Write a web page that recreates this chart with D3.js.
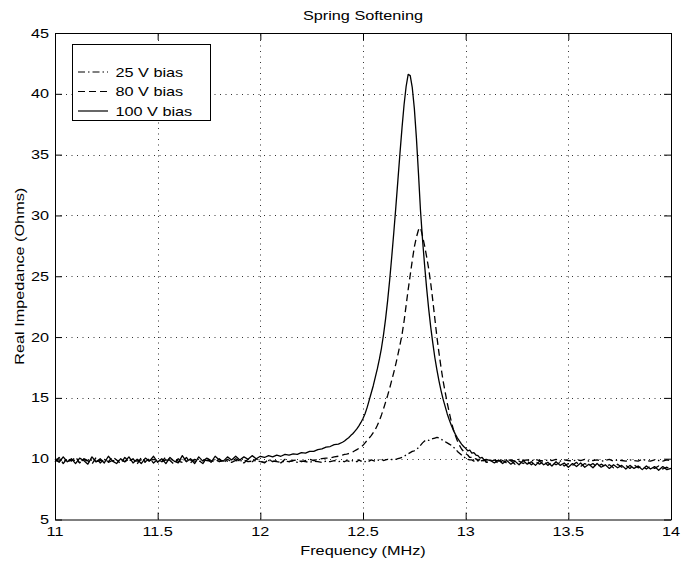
<!DOCTYPE html>
<html>
<head>
<meta charset="utf-8">
<script src="https://cdn.jsdelivr.net/npm/d3@7"></script>
<style>
  body { margin: 0; background: #fff; }
  text { font-family: "Liberation Sans", Arial, Helvetica, sans-serif; font-size: 13px; fill: #000; }
</style>
</head>
<body>
<div id="chart"></div>
<script>
// sampling grid (MHz): coarse on the flanks, fine round the resonance
const freqLow = [11.00, 11.02, 11.04, 11.06, 11.08, 11.10, 11.12, 11.14, 11.16, 11.18,
  11.20, 11.22, 11.24, 11.26, 11.28, 11.30, 11.32, 11.34, 11.36, 11.38,
  11.40, 11.42, 11.44, 11.46, 11.48, 11.50, 11.52, 11.54, 11.56, 11.58,
  11.60, 11.62, 11.64, 11.66, 11.68, 11.70, 11.72, 11.74, 11.76, 11.78,
  11.80, 11.82, 11.84, 11.86, 11.88, 11.90, 11.92, 11.94, 11.96, 11.98,
  12.00, 12.02, 12.04, 12.06, 12.08, 12.10, 12.12, 12.14, 12.16, 12.18,
  12.20, 12.22, 12.24, 12.26, 12.28, 12.30, 12.32, 12.34, 12.36, 12.38, 12.40];
const freqPeak = [12.41, 12.42, 12.43, 12.44, 12.45, 12.46, 12.47, 12.48, 12.49, 12.50,
  12.51, 12.52, 12.53, 12.54, 12.55, 12.56, 12.57, 12.58, 12.59, 12.60,
  12.61, 12.62, 12.63, 12.64, 12.65, 12.66, 12.67, 12.68, 12.69, 12.70,
  12.71, 12.72, 12.73, 12.74, 12.75, 12.76, 12.77, 12.78, 12.79, 12.80,
  12.81, 12.82, 12.83, 12.84, 12.85, 12.86, 12.87, 12.88, 12.89, 12.90,
  12.91, 12.92, 12.93, 12.94, 12.95, 12.96, 12.97, 12.98, 12.99, 13.00,
  13.01, 13.02, 13.03, 13.04, 13.05, 13.06, 13.07, 13.08, 13.09, 13.10];
const freqHigh = [13.12, 13.14, 13.16, 13.18, 13.20, 13.22, 13.24, 13.26, 13.28, 13.30,
  13.32, 13.34, 13.36, 13.38, 13.40, 13.42, 13.44, 13.46, 13.48, 13.50,
  13.52, 13.54, 13.56, 13.58, 13.60, 13.62, 13.64, 13.66, 13.68, 13.70,
  13.72, 13.74, 13.76, 13.78, 13.80, 13.82, 13.84, 13.86, 13.88, 13.90,
  13.92, 13.94, 13.96, 13.98, 14.00];

// real impedance (Ohms)
const bias25 = [
  // 11.00 - 12.40
  9.85, 9.80, 9.95, 9.75, 9.90, 9.85, 9.70, 9.95, 9.80, 9.90,
  9.75, 9.85, 9.95, 9.70, 9.85, 9.80, 9.90, 9.75, 9.95, 9.85,
  9.80, 9.90, 9.70, 9.85, 9.95, 9.80, 9.75, 9.90, 9.85, 9.95,
  9.80, 9.70, 9.85, 9.90, 9.80, 9.75, 9.90, 9.85, 9.80, 9.95,
  9.75, 9.85, 9.80, 9.70, 9.85, 9.80, 9.90, 9.75, 9.80, 9.85,
  9.75, 9.70, 9.85, 9.80, 9.75, 9.70, 9.80, 9.75, 9.85, 9.70,
  9.80, 9.75, 9.70, 9.80, 9.75, 9.70, 9.80, 9.75, 9.85, 9.75, 9.80,
  // 12.41 - 13.10
  9.75, 9.85, 9.80, 9.70, 9.85, 9.80, 9.75, 9.90, 9.80, 9.85,
  9.75, 9.85, 9.80, 9.90, 9.85, 9.80, 9.90, 9.85, 9.95, 9.85,
  9.90, 9.95, 9.90, 9.95, 9.90, 9.95, 10.00, 10.05, 10.10, 10.20,
  10.30, 10.40, 10.50, 10.60, 10.65, 10.75, 10.90, 11.10, 11.30, 11.45,
  11.55, 11.50, 11.60, 11.65, 11.70, 11.75, 11.70, 11.60, 11.50, 11.40,
  11.30, 11.20, 11.10, 10.95, 10.80, 10.60, 10.45, 10.30, 10.15, 10.05,
  9.95, 9.90, 9.90, 9.80, 9.85, 9.95, 9.80, 9.85, 9.90, 9.80,
  // 13.12 - 14.00
  9.85, 9.90, 9.80, 9.95, 9.85, 9.90, 9.80, 9.95, 9.85, 9.90,
  9.80, 9.95, 9.85, 9.80, 9.90, 9.85, 9.95, 9.80, 9.90, 9.85,
  9.80, 9.90, 9.85, 9.95, 9.80, 9.85, 9.90, 9.80, 9.85, 9.95,
  9.80, 9.90, 9.85, 9.80, 9.90, 9.85, 9.80, 9.95, 9.85, 9.80,
  9.90, 9.85, 9.80, 9.90, 9.85];

const bias80 = [
  // 11.00 - 12.40
  9.75, 10.10, 9.60, 10.05, 9.80, 10.15, 9.65, 10.00, 9.85, 9.55,
  10.10, 9.65, 9.95, 9.75, 10.15, 9.90, 9.60, 10.10, 9.80, 10.00,
  9.55, 10.10, 9.75, 10.00, 9.65, 9.95, 9.75, 10.15, 9.85, 9.55,
  10.00, 9.75, 10.10, 9.65, 9.95, 9.85, 9.60, 10.05, 9.85, 9.70,
  10.00, 9.65, 9.95, 9.75, 10.00, 9.80, 9.65, 9.95, 9.75, 10.00,
  9.80, 9.65, 9.95, 9.75, 9.85, 9.65, 9.95, 9.75, 9.85, 9.90,
  9.75, 9.85, 9.95, 9.85, 9.95, 10.00, 10.05, 10.05, 10.15, 10.20, 10.30,
  // 12.41 - 13.10
  10.35, 10.38, 10.42, 10.46, 10.55, 10.65, 10.75, 10.85, 10.95, 11.10,
  11.30, 11.50, 11.70, 11.90, 12.15, 12.40, 12.75, 13.15, 13.60, 14.10,
  14.65, 15.20, 15.80, 16.45, 17.10, 17.80, 18.55, 19.35, 20.20, 21.30,
  22.60, 23.90, 25.10, 26.30, 27.40, 28.20, 28.80, 29.00, 28.30, 27.50,
  26.60, 25.60, 24.40, 23.00, 21.50, 20.00, 18.70, 17.50, 16.40, 15.50,
  14.60, 13.80, 13.05, 12.40, 11.90, 11.45, 11.10, 10.80, 10.60, 10.40,
  10.30, 10.10, 10.10, 9.95, 10.00, 9.80, 9.95, 9.75, 9.90, 9.70,
  // 13.12 - 14.00
  9.75, 9.90, 9.60, 9.85, 9.65, 9.85, 9.55, 9.80, 9.60, 9.80,
  9.50, 9.75, 9.55, 9.80, 9.45, 9.70, 9.50, 9.70, 9.40, 9.60,
  9.45, 9.70, 9.35, 9.60, 9.40, 9.60, 9.30, 9.55, 9.35, 9.50,
  9.25, 9.55, 9.30, 9.45, 9.20, 9.50, 9.25, 9.40, 9.15, 9.40,
  9.20, 9.40, 9.15, 9.30, 9.10];

const bias100 = [
  // 11.00 - 12.40
  9.95, 9.70, 10.15, 9.75, 10.00, 9.60, 10.05, 9.85, 9.55, 10.15,
  9.75, 10.00, 9.65, 10.20, 9.80, 9.60, 10.00, 9.75, 10.15, 9.65,
  9.95, 9.60, 10.05, 9.80, 10.20, 9.70, 10.00, 9.60, 10.10, 9.80,
  9.65, 10.25, 9.75, 10.00, 9.60, 10.15, 9.80, 10.05, 9.70, 10.20,
  9.90, 9.80, 10.15, 9.90, 10.20, 9.90, 10.15, 9.95, 10.25, 10.00,
  10.20, 10.10, 10.25, 10.15, 10.30, 10.20, 10.35, 10.30, 10.40, 10.35,
  10.50, 10.45, 10.60, 10.60, 10.75, 10.80, 10.95, 11.00, 11.15, 11.20, 11.35,
  // 12.41 - 13.10
  11.45, 11.60, 11.72, 11.90, 12.05, 12.25, 12.45, 12.70, 12.98, 13.30,
  13.70, 14.20, 14.80, 15.40, 16.00, 16.70, 17.40, 18.20, 19.10, 20.20,
  21.50, 23.00, 24.70, 26.60, 28.60, 30.70, 32.90, 35.10, 37.20, 39.10,
  40.60, 41.60, 41.50, 40.50, 38.80, 36.40, 33.50, 30.40, 28.00, 25.90,
  24.00, 22.30, 20.80, 19.50, 18.30, 17.30, 16.40, 15.60, 14.90, 14.30,
  13.70, 13.20, 12.75, 12.35, 12.00, 11.70, 11.45, 11.20, 11.00, 10.85,
  10.65, 10.70, 10.45, 10.50, 10.30, 10.25, 10.05, 10.10, 9.90, 9.95,
  // 13.12 - 14.00
  9.85, 9.65, 9.90, 9.60, 9.85, 9.55, 9.80, 9.50, 9.85, 9.55,
  9.75, 9.45, 9.80, 9.50, 9.70, 9.40, 9.75, 9.45, 9.65, 9.30,
  9.60, 9.35, 9.65, 9.30, 9.55, 9.25, 9.60, 9.30, 9.50, 9.20,
  9.50, 9.25, 9.45, 9.15, 9.45, 9.20, 9.40, 9.10, 9.40, 9.15,
  9.35, 9.05, 9.35, 9.10, 9.20];

const seriesNames = ["25 V bias", "80 V bias", "100 V bias"];
const xTicks = [11, 11.5, 12, 12.5, 13, 13.5, 14];
const yTicks = [5, 10, 15, 20, 25, 30, 35, 40, 45];

const width = 691, height = 562;
const margin = { top: 33, right: 20, bottom: 42.5, left: 55 };
const SX = 1.25; // the original type runs wide

const freqs = freqLow.concat(freqPeak, freqHigh);
const series = [bias25, bias80, bias100];
const dashes = ["7,3,1.5,3", "7,4", null];

const x = d3.scaleLinear().domain([11, 14]).range([margin.left, width - margin.right]);
const y = d3.scaleLinear().domain([5, 45]).range([height - margin.bottom, margin.top]);

const svg = d3.select("#chart").append("svg")
  .attr("width", width).attr("height", height);

svg.append("rect").attr("width", width).attr("height", height).attr("fill", "#fff");

function label(txt, px, py, anchor, rot) {
  svg.append("text")
    .attr("transform", `translate(${px},${py})` + (rot ? ` rotate(${rot})` : "") + ` scale(${SX},1)`)
    .attr("text-anchor", anchor)
    .text(txt);
}

// dotted grid
const grid = svg.append("g").attr("stroke", "#333").attr("stroke-width", 1)
  .attr("stroke-dasharray", "1,4.5");
grid.selectAll(".gx").data(xTicks.slice(1, -1)).enter().append("line")
  .attr("x1", (d) => Math.round(x(d)) + 0.5).attr("x2", (d) => Math.round(x(d)) + 0.5)
  .attr("y1", y(5)).attr("y2", y(45));
grid.selectAll(".gy").data(yTicks.slice(1, -1)).enter().append("line")
  .attr("y1", (d) => Math.round(y(d)) + 0.5).attr("y2", (d) => Math.round(y(d)) + 0.5)
  .attr("x1", x(11)).attr("x2", x(14));

// curves
const line = d3.line()
  .x((d) => x(d[0]))
  .y((d) => y(d[1]));

series.forEach((vals, i) => {
  svg.append("path")
    .datum(freqs.map((f, j) => [f, vals[j]]))
    .attr("d", line)
    .attr("fill", "none")
    .attr("stroke", "#000")
    .attr("stroke-width", 1.3)
    .attr("stroke-linejoin", "round")
    .attr("stroke-dasharray", dashes[i]);
});

// axes box with inward ticks
const axisBottom = d3.axisBottom(x).tickValues(xTicks).tickSizeInner(-7).tickSizeOuter(0).tickFormat("");
const axisTop = d3.axisTop(x).tickValues(xTicks).tickSizeInner(-7).tickSizeOuter(0).tickFormat("");
const axisLeft = d3.axisLeft(y).tickValues(yTicks).tickSizeInner(-7).tickSizeOuter(0).tickFormat("");
const axisRight = d3.axisRight(y).tickValues(yTicks).tickSizeInner(-7).tickSizeOuter(0).tickFormat("");

svg.append("g").attr("transform", `translate(0,${y(5)})`).call(axisBottom);
svg.append("g").attr("transform", `translate(0,${y(45)})`).call(axisTop);
svg.append("g").attr("transform", `translate(${x(11)},0)`).call(axisLeft);
svg.append("g").attr("transform", `translate(${x(14)},0)`).call(axisRight);
svg.selectAll(".domain, .tick line").attr("stroke", "#000").attr("stroke-width", 1);

// tick labels
xTicks.forEach((t) => label(String(t), x(t), y(5) + 16, "middle"));
yTicks.forEach((t) => label(String(t), x(11) - 6, y(t) + 4.6, "end"));

// titles
const cx = (x(11) + x(14)) / 2;
label("Spring Softening", cx, 20, "middle");
label("Frequency (MHz)", cx, 555, "middle");
label("Real Impedance (Ohms)", 24, (y(5) + y(45)) / 2, "middle", -90);

// legend
const legend = svg.append("g");
legend.append("rect")
  .attr("x", 72.5).attr("y", 44.5).attr("width", 138).attr("height", 76)
  .attr("fill", "#fff").attr("stroke", "#000").attr("stroke-width", 1);
const rows = [72, 91.5, 111];
seriesNames.forEach((name, i) => {
  legend.append("line")
    .attr("x1", 78).attr("x2", 108).attr("y1", rows[i]).attr("y2", rows[i])
    .attr("stroke", "#000").attr("stroke-width", 1.2)
    .attr("stroke-dasharray", dashes[i]);
  label(name, 115.5, rows[i] + 4.6, "start");
});
</script>
</body>
</html>
